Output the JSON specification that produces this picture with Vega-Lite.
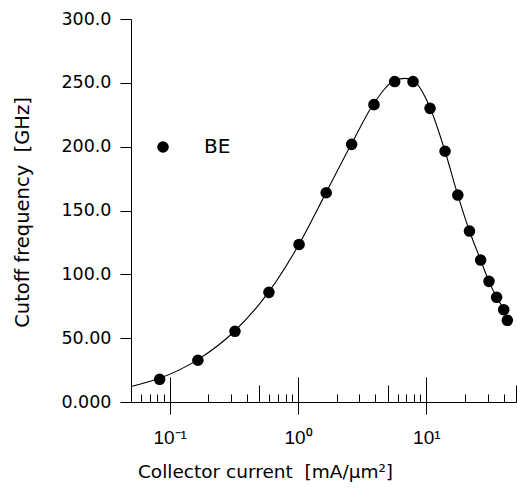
{
  "$schema": "https://vega.github.io/schema/vega-lite/v6.json",
  "width": 385,
  "height": 383,
  "autosize": {"type": "none"},
  "padding": {"left": 131, "top": 19, "right": 1, "bottom": 86},
  "background": "white",
  "config": {
    "view": {"stroke": null},
    "axis": {"grid": false, "domainColor": "black", "tickColor": "black", "labelColor": "black", "titleColor": "black", "titleFontWeight": "normal", "tickWidth": 1, "domainWidth": 1}
  },
  "datasets": {
    "points": [
      {"I": 0.0836, "fT": 17.8, "series": "BE"},
      {"I": 0.166, "fT": 32.7, "series": "BE"},
      {"I": 0.323, "fT": 55.4, "series": "BE"},
      {"I": 0.594, "fT": 85.9, "series": "BE"},
      {"I": 1.02, "fT": 123.4, "series": "BE"},
      {"I": 1.66, "fT": 163.9, "series": "BE"},
      {"I": 2.62, "fT": 201.8, "series": "BE"},
      {"I": 3.91, "fT": 232.9, "series": "BE"},
      {"I": 5.67, "fT": 251.0, "series": "BE"},
      {"I": 7.88, "fT": 251.0, "series": "BE"},
      {"I": 10.7, "fT": 230.0, "series": "BE"},
      {"I": 14.0, "fT": 196.4, "series": "BE"},
      {"I": 17.6, "fT": 162.1, "series": "BE"},
      {"I": 21.7, "fT": 133.9, "series": "BE"},
      {"I": 26.5, "fT": 111.2, "series": "BE"},
      {"I": 30.8, "fT": 94.5, "series": "BE"},
      {"I": 35.3, "fT": 82.0, "series": "BE"},
      {"I": 40.1, "fT": 72.3, "series": "BE"},
      {"I": 42.8, "fT": 64.0, "series": "BE"}
    ],
    "curve": [
      {"I": 0.05, "fT": 12.2},
      {"I": 0.0836, "fT": 18.6},
      {"I": 0.166, "fT": 33.2},
      {"I": 0.323, "fT": 55.8},
      {"I": 0.594, "fT": 86.4},
      {"I": 1.02, "fT": 123.6},
      {"I": 1.66, "fT": 164.2},
      {"I": 2.62, "fT": 202.4},
      {"I": 3.91, "fT": 234.0},
      {"I": 5.67, "fT": 251.8},
      {"I": 6.85, "fT": 253.5},
      {"I": 7.88, "fT": 252.0},
      {"I": 10.7, "fT": 230.5},
      {"I": 14.0, "fT": 196.4},
      {"I": 17.6, "fT": 162.1},
      {"I": 21.7, "fT": 133.9},
      {"I": 26.5, "fT": 111.2},
      {"I": 30.8, "fT": 94.5},
      {"I": 35.3, "fT": 82.0},
      {"I": 40.1, "fT": 72.3},
      {"I": 42.8, "fT": 64.0}
    ]
  },
  "encoding": {
    "y": {
      "field": "fT",
      "type": "quantitative",
      "scale": {"domain": [0, 300], "nice": false, "zero": false},
      "axis": {
        "values": [0, 50, 100, 150, 200, 250, 300],
        "tickSize": 11,
        "labelPadding": 9,
        "labelFont": "DejaVu Sans",
        "labelFontSize": 17.5,
        "labelExpr": "datum.value == 0 ? '0.000' : (datum.value < 100 ? format(datum.value, '.2f') : format(datum.value, '.1f'))",
        "title": "Cutoff frequency \u00a0[GHz]",
        "titleFont": "DejaVu Sans",
        "titleFontSize": 19.5,
        "titleAngle": -90,
        "titleX": -103,
        "titleY": 193,
        "titleAlign": "center",
        "titleBaseline": "alphabetic"
      }
    }
  },
  "layer": [
    {
      "data": {"name": "curve"},
      "mark": {"type": "line", "color": "black", "strokeWidth": 1.1, "interpolate": "monotone"},
      "encoding": {
        "x": {
          "field": "I",
          "type": "quantitative",
          "scale": {"type": "log", "domain": [0.05, 50], "nice": false},
          "axis": {
            "orient": "bottom",
            "values": [0.1, 1, 10],
            "tickSize": 12,
            "labelExpr": "datum.value < 0.5 ? '10⁻¹' : (datum.value < 5 ? '10⁰' : '10¹')",
            "labelFont": "Liberation Sans",
            "labelFontSize": 19,
            "labelPadding": 14,
            "labelFlush": false,
            "labelOverlap": false,
            "title": "Collector current \u00a0[mA/µm²]",
            "titleFont": "DejaVu Sans",
            "titleFontSize": 18.5,
            "titleX": 134,
            "titleY": 75,
            "titleAlign": "center",
            "titleBaseline": "alphabetic"
          }
        }
      }
    },
    {
      "data": {"name": "points"},
      "mark": {"type": "point", "filled": true, "size": 135, "opacity": 1},
      "encoding": {
        "x": {
          "field": "I",
          "type": "quantitative",
          "scale": {"type": "log", "domain": [0.05, 50], "nice": false},
          "axis": {
            "orient": "bottom",
            "values": [0.05, 0.06, 0.07, 0.08, 0.09, 0.1, 0.2, 0.3, 0.4, 0.5, 0.6, 0.7, 0.8, 0.9, 1, 2, 3, 4, 5, 6, 7, 8, 9, 10, 20, 30, 40, 50],
            "labels": false,
            "domain": false,
            "title": null,
            "tickSize": {
              "condition": [
                {"test": "indexof([0.1, 1, 10], datum.value) >= 0", "value": -25},
                {"test": "indexof([0.05, 0.5, 5, 50], datum.value) >= 0", "value": -17}
              ],
              "value": -8
            }
          }
        },
        "color": {
          "field": "series",
          "type": "nominal",
          "scale": {"domain": ["BE"], "range": ["black"]},
          "legend": {
            "orient": "none",
            "legendX": 22,
            "legendY": 118,
            "title": null,
            "symbolType": "circle",
            "symbolSize": 135,
            "symbolFillColor": "black",
            "symbolStrokeWidth": 0,
            "labelFont": "DejaVu Sans",
            "labelFontSize": 20,
            "labelColor": "black",
            "labelOffset": 31,
            "padding": 0
          }
        }
      }
    }
  ],
  "resolve": {"axis": {"x": "independent"}, "scale": {"x": "shared"}}
}
